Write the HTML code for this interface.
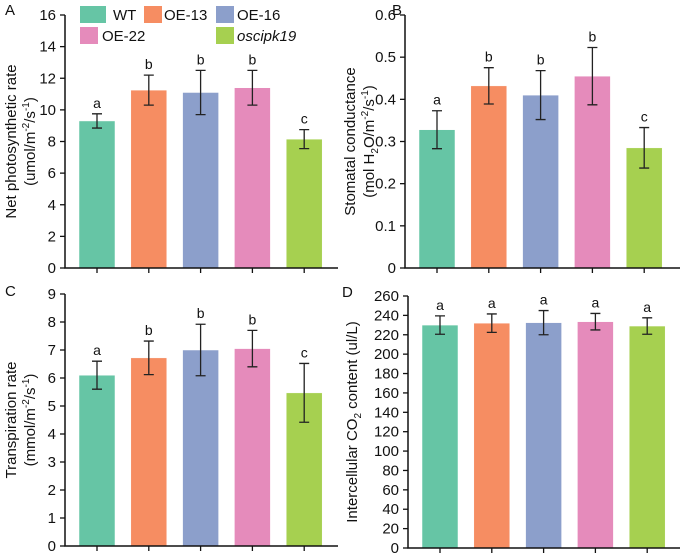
<!DOCTYPE html>
<html><head><meta charset="utf-8"><style>
body{margin:0;background:#fff}
svg{display:block;font-family:"Liberation Sans",Arial,sans-serif}
</style></head><body>
<svg id="chart" width="685" height="556" viewBox="0 0 685 556"></svg>
<script>
const categories=["WT","OE-13","OE-16","OE-22","oscipk19"];
const colors=["#66c5a5","#f68d62","#8c9fcb","#e58bbb","#a6d050"];
const aValues=[9.3,11.25,11.1,11.4,8.15];
const aErrors=[0.45,0.95,1.4,1.1,0.6];
const aLetters=["a","b","b","b","c"];
const aTicks=[0,2,4,6,8,10,12,14,16];
const bValues=[0.328,0.432,0.41,0.455,0.285];
const bErrors=[0.045,0.043,0.058,0.068,0.048];
const bLetters=["a","b","b","b","c"];
const bTicks=["0","0.1","0.2","0.3","0.4","0.5","0.6"];
const cValues=[6.1,6.72,7.0,7.05,5.47];
const cErrors=[0.5,0.6,0.92,0.65,1.05];
const cLetters=["a","b","b","b","c"];
const cTicks=[0,1,2,3,4,5,6,7,8,9];
const dValues=[230,232,232.5,233.5,229];
const dErrors=[9.5,9.5,12.5,8.5,8.5];
const dLetters=["a","a","a","a","a"];
const dTicks=[0,20,40,60,80,100,120,140,160,180,200,220,240,260];

const NS="http://www.w3.org/2000/svg";
const svg=document.getElementById("chart");
function mk(tag,attrs,parent,txt){const e=document.createElementNS(NS,tag);for(const k in attrs)e.setAttribute(k,attrs[k]);if(txt!==undefined)e.textContent=txt;(parent||svg).appendChild(e);return e;}

function panel(id,ax,top,bottom,right,ticks,values,errors,letters,titleLines,label){
  const g=mk("g",{});
  
  
  const tn=ticks.map(Number);
  const max=tn[tn.length-1];
  const y=v=>bottom-(v/max)*(bottom-top);
  const pitch=51.8, bw=36, x0=ax+14;
  const xC=i=>x0+i*pitch+bw/2;
  values.forEach((v,i)=>{
    const r=mk("rect",{x:x0+i*pitch,y:y(v),width:bw,height:bottom-y(v),fill:colors[i],stroke:"#fff","stroke-width":0.5},g);
    
    
    const cx=xC(i), hi=y(v+errors[i]), lo=y(v-errors[i]);
    const e=mk("path",{d:`M${cx},${hi}V${lo}M${cx-5},${hi}H${cx+5}M${cx-5},${lo}H${cx+5}`,stroke:"#222","stroke-width":1.3,fill:"none"},g);
    
    
    const t=mk("text",{x:cx,y:hi-6,"text-anchor":"middle","font-size":14,fill:"#111"},g,letters[i]);
    
    
    mk("line",{x1:cx,x2:cx,y1:bottom,y2:bottom+5,stroke:"#111","stroke-width":1.3},g);
  });
  const axl=mk("path",{d:`M${ax},${top}V${bottom}H${right}`,stroke:"#111","stroke-width":1.5,fill:"none"},g);
  
  
  ticks.forEach((t,i)=>{
    const yy=y(tn[i]);
    mk("line",{x1:ax-5,x2:ax,y1:yy,y2:yy,stroke:"#111","stroke-width":1.3},g);
    const tl=mk("text",{x:ax-9,y:yy+5,"text-anchor":"end","font-size":15,fill:"#111"},g,String(t));
    
    
  });
  const tt=mk("text",{transform:`translate(${titleLines.x},${(top+bottom)/2}) rotate(-90)`,"text-anchor":"middle","font-size":15,fill:"#111"},g);
  
  
  tt.innerHTML=titleLines.html;
  const pl=mk("text",{x:label[0],y:label[1],"font-size":15,fill:"#111"},g,id.toUpperCase());
  
  
}

panel("a",65,15,268,338,aTicks,aValues,aErrors,aLetters,{x:24,html:'<tspan x="0" dy="-8">Net photosynthetic rate</tspan><tspan x="0" dy="19">(umol/m<tspan font-size="10" dy="-6">-2</tspan><tspan dy="6">/s</tspan><tspan font-size="10" dy="-6">-1</tspan><tspan dy="6">)</tspan></tspan>'},[5,15]);
panel("b",405,15,268,680,bTicks,bValues,bErrors,bLetters,{x:363,html:'<tspan x="0" dy="-8">Stomatal conductance</tspan><tspan x="0" dy="19">(mol H<tspan font-size="10" dy="4">2</tspan><tspan dy="-4">O/m</tspan><tspan font-size="10" dy="-6">-2</tspan><tspan dy="6">/s</tspan><tspan font-size="10" dy="-6">-1</tspan><tspan dy="6">)</tspan></tspan>'},[392,15]);
panel("c",65,294,546,338,cTicks,cValues,cErrors,cLetters,{x:24,html:'<tspan x="0" dy="-8">Transpiration rate</tspan><tspan x="0" dy="19">(mmol/m<tspan font-size="10" dy="-6">-2</tspan><tspan dy="6">/s</tspan><tspan font-size="10" dy="-6">-1</tspan><tspan dy="6">)</tspan></tspan>'},[5,296]);
panel("d",408,296,548,680,dTicks,dValues,dErrors,dLetters,{x:352,html:'<tspan x="0" dy="5">Intercellular CO<tspan font-size="10" dy="4">2</tspan><tspan dy="-4"> content (ul/L)</tspan></tspan>'},[342,297]);

const lg=mk("g",{});


const legPos=[[80,6,113],[144,6,164],[216,6,237],[80,27,102],[216,27,237]];
categories.forEach((c,i)=>{
  const [bx,by,tx]=legPos[i];
  const w=(i===0)?26:18;
  const r=mk("rect",{x:bx,y:by,width:w,height:17,fill:colors[i]},lg);
  
  
  const t=mk("text",{x:tx,y:by+14,"font-size":15,fill:"#111","font-style":i===4?"italic":"normal"},lg,c);
  
  
});
</script>
</body></html>
